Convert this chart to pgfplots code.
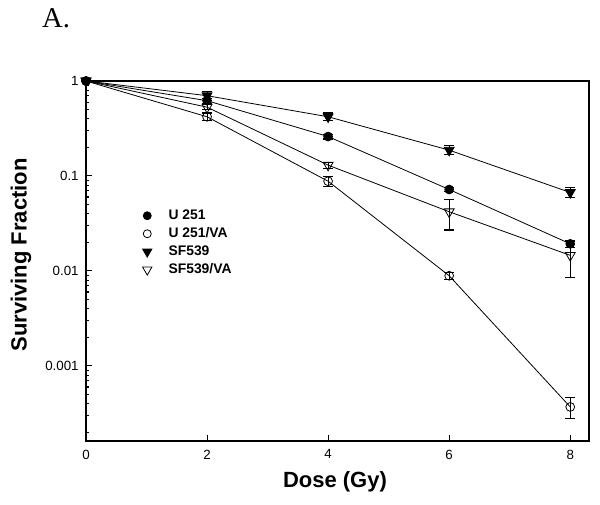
\documentclass[border=0pt]{standalone}
\usepackage{pgfplots}
\pgfplotsset{compat=1.18}
\usepackage{fontspec}
\setmainfont{Liberation Sans}
\newfontfamily\seriffont{Liberation Serif}

\pgfplotsset{
  legmark/.style={only marks,
    legend image code/.code={\path[draw=none, fill=none] (0pt,-1pt) rectangle (19pt,1pt);
      \draw[##1] plot coordinates {(5pt,0pt)};}},
}

\begin{document}
\begin{tikzpicture}
\useasboundingbox (0,0) rectangle (450pt,378.75pt);
\node[anchor=base, font=\seriffont\fontsize{21.5}{24}\selectfont] at (42pt,358pt) {A.};
\begin{axis}[
  at={(64.5pt,48pt)}, anchor=south west,
  scale only axis, width=377.25pt, height=270pt,
  ymode=log,
  xmin=0, xmax=8.31, ymin=1.62e-4, ymax=1,
  axis line style={line width=0.9pt},
  xtick={0,2,4,6,8},
  ytick={1,0.1,0.01,0.001},
  yticklabels={1,0.1,0.01,0.001},
  minor ytick={2e-4,3e-4,4e-4,5e-4,6e-4,7e-4,8e-4,9e-4,
               2e-3,3e-3,4e-3,5e-3,6e-3,7e-3,8e-3,9e-3,
               2e-2,3e-2,4e-2,5e-2,6e-2,7e-2,8e-2,9e-2,
               0.2,0.3,0.4,0.5,0.6,0.7,0.8,0.9},
  xtick pos=left, ytick pos=left, tick align=inside,
  major tick length=4.5pt, minor tick length=2.5pt,
  every tick/.style={black, line width=0.8pt},
  /pgf/number format/assume math mode=true,
  tick label style={font=\fontsize{10}{12}\selectfont},
  xticklabel style={yshift=-3pt},
  yticklabel style={xshift=-2pt},
  xlabel={Dose (Gy)},
  ylabel={Surviving Fraction},
  label style={font=\bfseries\fontsize{16.5}{19}\selectfont},
  xlabel style={at={(rel axis cs:0.495,0)}, anchor=center, yshift=-30.75pt},
  ylabel style={at={(rel axis cs:0,0.517)}, anchor=center, yshift=48.75pt},
  clip=false,
  legend style={at={(rel axis cs:0.108,0.65)}, anchor=north west, draw=none, fill=none,
    font=\bfseries\fontsize{10.4}{12}\selectfont, row sep=0.6pt, inner sep=0pt,
    cells={anchor=west}},
  every axis plot/.append style={black, line width=0.6pt,
    error bars/y dir=both, error bars/y explicit,
    error bars/error bar style={line width=0.8pt},
    error bars/error mark options={rotate=90, mark size=3.6pt, line width=0.8pt}},
]
% SF539
\addplot[mark=triangle*, mark size=4.3pt, mark options={rotate=180, fill=black}, forget plot]
  coordinates {(0,1) +- (0,0.01) (2,0.70) +- (0,0.07) (4,0.42) +- (0,0.04) (6,0.187) +- (0,0.02) (8,0.067) +- (0,0.008)};
% U251
\addplot[mark=*, mark size=3.3pt, mark options={fill=black}, forget plot]
  coordinates {(0,1) +- (0,0.01) (2,0.62) +- (0,0.04) (4,0.26) +- (0,0.015) (6,0.072) +- (0,0.004) (8,0.0193) +- (0,0.0015)};
% SF539/VA
\addplot[mark=triangle, mark size=4.3pt, mark options={rotate=180, fill=white}, forget plot]
  coordinates {(0,1) +- (0,0.01) (2,0.53) +- (0,0.03) (4,0.13) +- (0,0.01) (6,0.042) +- (0,0.015) (8,0.0146) +- (0,0.006)};
% U251/VA
\addplot[mark=o, mark size=3.3pt, mark options={fill=white}, forget plot]
  coordinates {(0,1) +- (0,0.01) (2,0.42) +- (0,0.04) (4,0.088) +- (0,0.01) (6,0.0089) +- (0,0.0008) (8,0.00037) +- (0,0.00009)};

\addlegendimage{legmark, black, mark=*, mark size=3pt, mark options={fill=black}}
\addlegendentry{U 251}
\addlegendimage{legmark, black, mark=o, mark size=3pt, mark options={fill=white}}
\addlegendentry{U 251/VA}
\addlegendimage{legmark, black, mark=triangle*, mark size=4pt, mark options={rotate=180, fill=black}}
\addlegendentry{SF539}
\addlegendimage{legmark, black, mark=triangle, mark size=4pt, mark options={rotate=180, fill=white}}
\addlegendentry{SF539/VA}
\end{axis}
\end{tikzpicture}
\end{document}
